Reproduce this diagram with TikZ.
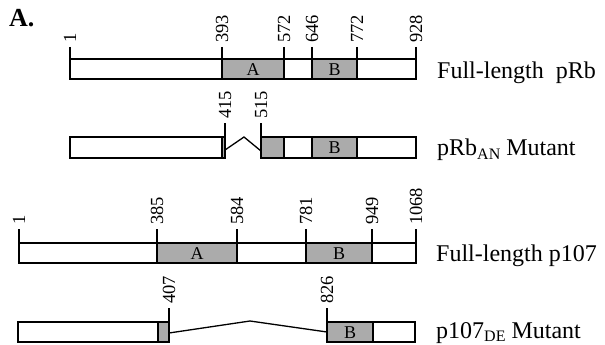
\documentclass[tikz,border=0pt]{standalone}
\usepackage{fontspec}
\setmainfont{Liberation Serif}
\tikzset{
  protbox/.style={draw, line width=1.5pt},
  domfill/.style={fill=black!33},
  ticker/.style={line width=1.5pt},
  divider/.style={line width=1.5pt},
  num/.style={rotate=90, anchor=west, inner sep=0pt, font=\fontsize{18.5}{18.5}\selectfont},
  domlab/.style={inner sep=0pt, font=\fontsize{18}{18}\selectfont},
  lab/.style={anchor=base west, inner sep=0pt, font=\fontsize{24}{24}\selectfont},
  link/.style={line width=1.3pt, line join=miter},
}
\newcommand{\sbs}[1]{\raisebox{-0.35ex}{\fontsize{16}{16}\selectfont #1}}
\begin{document}
\begin{tikzpicture}[x=1pt,y=-1pt]
\useasboundingbox (0,0) rectangle (605,345);
\node[anchor=north west, inner sep=0pt, font=\fontsize{26}{26}\selectfont\bfseries] (title) at (9,9) {A.};

% ---------- Row 1: Full-length pRb ----------
\path[domfill] (222,59) rectangle (284,79);
\path[domfill] (312,59) rectangle (357,79);
\draw[protbox] (70,59) rectangle (416,79);
\foreach \x/\n in {70/1,222/393,284/572,312/646,357/772,416/928}{
  \draw[ticker] (\x,47) -- (\x,79);
  \node[num] (r1n\n) at (\x,43) {\n};
}
\node[domlab] (r1A) at (253,69.5) {A};
\node[domlab] (r1B) at (334.5,69.5) {B};
\node[lab] (r1lab) at (437,78) {Full-length\ \ pRb};

% ---------- Row 2: pRb AN mutant ----------
\path[domfill] (222,137) rectangle (225,158);
\path[domfill] (261,137) rectangle (284,158);
\path[domfill] (312,137) rectangle (357,158);
\draw[protbox] (70,137) rectangle (225,158);
\draw[protbox] (261,137) rectangle (416,158);
\draw[divider] (222,137) -- (222,158);
\foreach \x in {284,312,357}{\draw[divider] (\x,137) -- (\x,158);}
\foreach \x/\n in {225/415,261/515}{
  \draw[ticker] (\x,123) -- (\x,158);
  \node[num] (r2n\n) at (\x,119) {\n};
}
\coordinate (r2s) at (225,150);
\coordinate (r2p) at (244,137);
\coordinate (r2e) at (261,151);
\draw[link] (r2s) -- (r2p) -- (r2e);
\node[domlab] (r2B) at (334.5,148) {B};
\node[lab] (r2lab) at (437,155.5) {pRb\sbs{AN} Mutant};

% ---------- Row 3: Full-length p107 ----------
\path[domfill] (157,243) rectangle (237,263);
\path[domfill] (306,243) rectangle (372,263);
\draw[protbox] (19,243) rectangle (416,263);
\foreach \x/\n in {19/1,157/385,237/584,306/781,372/949,416/1068}{
  \draw[ticker] (\x,229) -- (\x,263);
  \node[num] (r3n\n) at (\x,225) {\n};
}
\node[domlab] (r3A) at (197,253.5) {A};
\node[domlab] (r3B) at (339,253.5) {B};
\node[lab] (r3lab) at (436,261.5) {Full-length p107};

% ---------- Row 4: p107 DE mutant ----------
\path[domfill] (158,322) rectangle (169,342);
\path[domfill] (327,322) rectangle (373,342);
\draw[protbox] (18,322) rectangle (169,342);
\draw[protbox] (327,322) rectangle (415,342);
\draw[divider] (158,322) -- (158,342);
\draw[divider] (373,322) -- (373,342);
\foreach \x/\n in {169/407,327/826}{
  \draw[ticker] (\x,308) -- (\x,342);
  \node[num] (r4n\n) at (\x,304) {\n};
}
\coordinate (r4s) at (169,333);
\coordinate (r4p) at (250,321);
\coordinate (r4e) at (327,332);
\draw[link] (r4s) -- (r4p) -- (r4e);
\node[domlab] (r4B) at (350,332.5) {B};
\node[lab] (r4lab) at (436,338) {p107\sbs{DE} Mutant};
\end{tikzpicture}
\end{document}
